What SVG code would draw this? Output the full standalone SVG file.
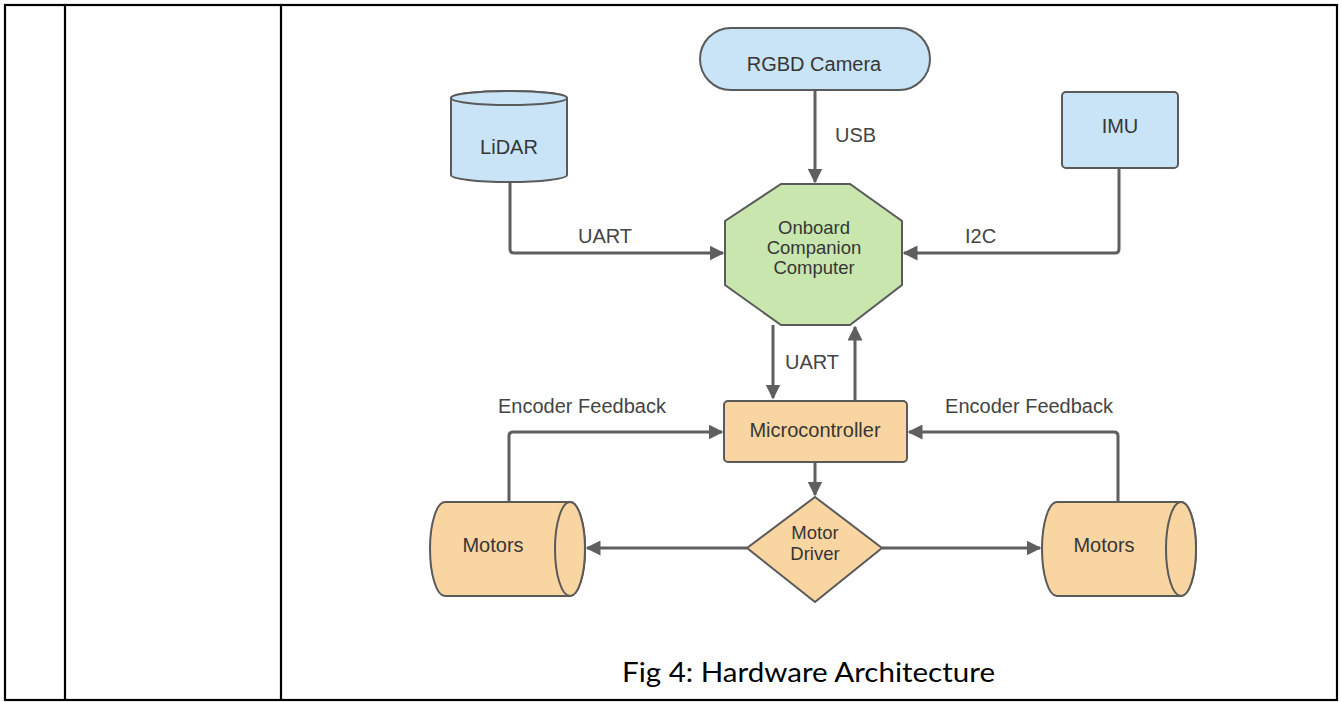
<svg xmlns="http://www.w3.org/2000/svg" width="1341" height="702" viewBox="0 0 1341 702">
<style>
.tbl{fill:none;stroke:#000;stroke-width:2.2}
.blue{fill:#c9e4f6;stroke:#5a5a5a;stroke-width:2}
.green{fill:#c9e6ae;stroke:#5a5a5a;stroke-width:2}
.orange{fill:#f9d5a2;stroke:#5a5a5a;stroke-width:2}
.lbl{font-family:"Liberation Sans",Arial,sans-serif;font-size:20px;fill:#363636;text-anchor:middle}
.sm{font-size:18.5px}
.elbl{font-family:"Liberation Sans",Arial,sans-serif;font-size:20px;fill:#444}
.con{fill:none;stroke:#5f5f5f;stroke-width:3;stroke-linejoin:round}
.cap{font-family:Lato,"Open Sans","Liberation Sans",sans-serif;font-size:27px;fill:#000}
</style>
<defs>
<marker id="ah" viewBox="0 0 10 10" refX="9" refY="5" markerWidth="5" markerHeight="5" orient="auto" markerUnits="strokeWidth">
<path d="M0,0 L10,5 L0,10 Z" fill="#5f5f5f"/>
</marker>
</defs>
<rect width="1341" height="702" fill="#fff"/>
<g id="table">
<rect class="tbl" x="5" y="5" width="1332" height="695"/>
<line class="tbl" x1="65" y1="5" x2="65" y2="700"/>
<line class="tbl" x1="281" y1="5" x2="281" y2="700"/>
</g>
<g id="connectors">
<path class="con" d="M815,90 V182" marker-end="url(#ah)"/>
<path class="con" d="M510,182 V249 Q510,253 514,253 H723" marker-end="url(#ah)"/>
<path class="con" d="M1119,168 V249 Q1119,253 1115,253 H904" marker-end="url(#ah)"/>
<path class="con" d="M773,325 V398" marker-end="url(#ah)"/>
<path class="con" d="M855,400 V327" marker-end="url(#ah)"/>
<path class="con" d="M815,462 V495" marker-end="url(#ah)"/>
<path class="con" d="M509,502 V436 Q509,432 513,432 H722" marker-end="url(#ah)"/>
<path class="con" d="M1118,502 V436 Q1118,432 1114,432 H909" marker-end="url(#ah)"/>
<path class="con" d="M747,548 H587" marker-end="url(#ah)"/>
<path class="con" d="M882,548 H1040" marker-end="url(#ah)"/>
<text class="elbl" x="835" y="142">USB</text>
<text class="elbl" x="578" y="243">UART</text>
<text class="elbl" x="965" y="243">I2C</text>
<text class="elbl" x="785" y="369">UART</text>
<text class="elbl" x="498" y="413">Encoder Feedback</text>
<text class="elbl" x="1113" y="413" text-anchor="end">Encoder Feedback</text>
</g>
<g id="camera">
<rect class="blue" x="700" y="28" width="230" height="62" rx="31"/>
<text class="lbl" x="814" y="71">RGBD Camera</text>
</g>
<g id="lidar">
<path class="blue" d="M451,98 V175 A58,7 0 0 0 567,175 V98 A58,7 0 0 0 451,98 Z"/>
<ellipse class="blue" cx="509" cy="98" rx="58" ry="7"/>
<text class="lbl" x="509" y="154">LiDAR</text>
</g>
<g id="imu">
<rect class="blue" x="1062" y="92" width="116" height="76" rx="4"/>
<text class="lbl" x="1120" y="133">IMU</text>
</g>
<g id="computer">
<polygon class="green" points="781,184 850,184 902,221 902,285 850,325 781,325 725,285 725,221"/>
<text class="lbl sm" x="814" y="234">Onboard</text>
<text class="lbl sm" x="814" y="254">Companion</text>
<text class="lbl sm" x="814" y="274">Computer</text>
</g>
<g id="microcontroller">
<rect class="orange" x="724" y="401" width="183" height="61" rx="4"/>
<text class="lbl" x="815" y="437">Microcontroller</text>
</g>
<g id="driver">
<polygon class="orange" points="815,497 882,548 815,602 747,548"/>
<text class="lbl sm" x="815" y="539">Motor</text>
<text class="lbl sm" x="815" y="560">Driver</text>
</g>
<g id="motors-left">
<path class="orange" d="M445,502 H570 A15,47 0 0 1 570,596 H445 A15,47 0 0 1 445,502 Z"/>
<ellipse class="orange" cx="570" cy="549" rx="15" ry="47"/>
<text class="lbl" x="493" y="552">Motors</text>
</g>
<g id="motors-right">
<path class="orange" d="M1057,502 H1181 A15,47 0 0 1 1181,596 H1057 A15,47 0 0 1 1057,502 Z"/>
<ellipse class="orange" cx="1181" cy="549" rx="15" ry="47"/>
<text class="lbl" x="1104" y="552">Motors</text>
</g>
<g id="caption">
<text class="cap" x="622" y="682" textLength="373" lengthAdjust="spacingAndGlyphs">Fig 4: Hardware Architecture</text>
</g>
</svg>
